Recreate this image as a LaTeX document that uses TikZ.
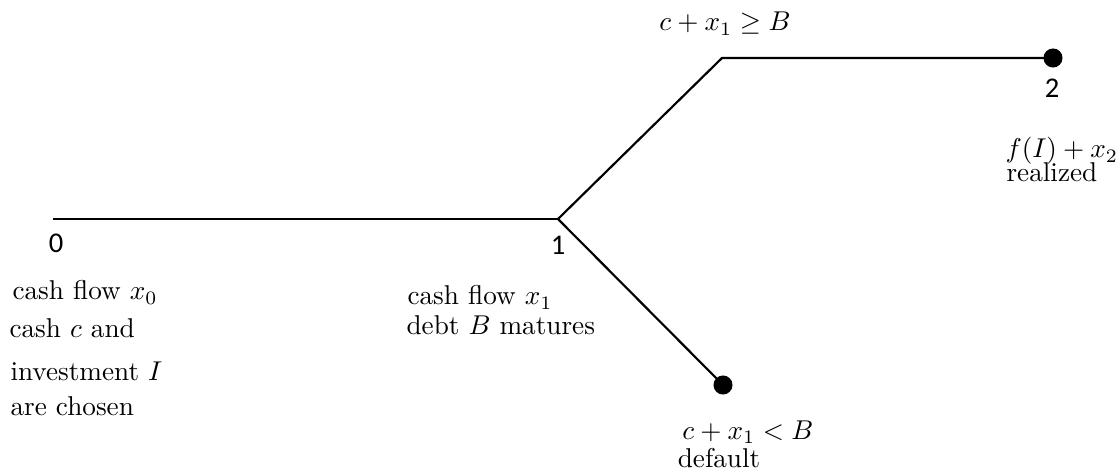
\documentclass[tikz,border=0pt]{standalone}
\usepackage{fontspec}
\newfontfamily\numfont{Carlito}
\begin{document}
\begin{tikzpicture}[x=0.3676pt,y=-0.3676pt,
  branch/.style={line width=0.8pt, line join=miter},
  enddot/.style={circle, fill=black, inner sep=0pt, minimum size=7pt},
  lbl/.style={inner sep=0pt, anchor=base, font=\fontsize{10}{12}\selectfont},
  lbll/.style={inner sep=0pt, anchor=base west, font=\fontsize{10}{12}\selectfont},
  num/.style={inner sep=0pt, anchor=base, font=\numfont\fontsize{10.5}{12}\selectfont}]
\useasboundingbox (0,0) rectangle (1120,471);
% points
\coordinate (t0) at (53,219);
\coordinate (t1) at (558,219);
\coordinate (up) at (722,58);
\node[enddot] (e2) at (1053,58) {};
\node[enddot] (ed) at (723,385) {};
% lines
\draw[branch] (t0) -- (t1);
\draw[branch] (t1) -- (up) -- (e2.center);
\draw[branch] (t1) -- (ed.center);
% time labels
\node[num] (n0) at (56,253) {0};
\node[num] (n1) at (558,255) {1};
\node[num] (n2) at (1052,98) {2};
% texts at 0
\node[lbll] (a1) at (12,300) {cash flow $x_0$};
\node[lbll] (a2) at (9,338) {cash $c$ and};
\node[lbll] (a3) at (10,380) {investment $I$};
\node[lbll] (a4) at (10,415) {are chosen};
% texts at 1
\node[lbll] (b1) at (407,305) {cash flow $x_1$};
\node[lbll] (b2) at (406,335) {debt $B$ matures};
% upper branch
\node[lbl] (c1) at (725,31) {$c+x_1\geq B$};
\node[lbll] (d1) at (1005,158) {$f(I)+x_2$};
\node[lbll] (d2) at (1006,182) {realized};
% lower branch
\node[lbl] (f1) at (748,439) {$c+x_1<B$};
\node[lbl] (f2) at (719,467) {default};
\end{tikzpicture}
\end{document}
